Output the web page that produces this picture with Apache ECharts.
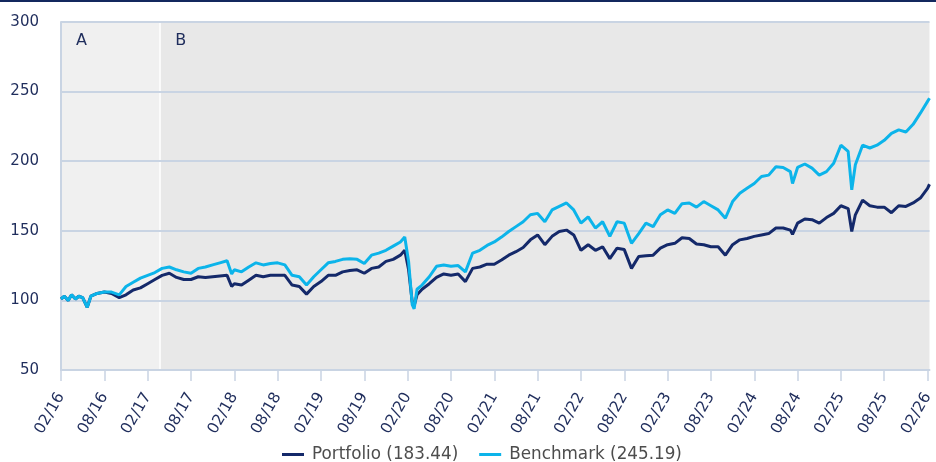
<!DOCTYPE html>
<html>
<head>
<meta charset="utf-8">
<script src="https://cdn.jsdelivr.net/npm/echarts@6/dist/echarts.min.js"></script>
<style>
  html, body { margin: 0; padding: 0; background: #fff; }
  #chart { width: 936px; height: 462px; }
  .topline { position: absolute; left: 0; top: 0; width: 936px; height: 2px; background: #13285e; z-index: 5; }
</style>
</head>
<body>
<div class="topline"></div>
<div id="chart"></div>
<script>
const dates = [
  '2016-02-01','2016-02-15','2016-03-01','2016-03-15','2016-04-01','2016-04-15','2016-05-01','2016-05-20','2016-06-05','2016-07-01',
  '2016-08-01','2016-09-01','2016-10-03','2016-11-01','2016-12-01','2017-01-01','2017-02-01','2017-03-01','2017-04-01','2017-05-01',
  '2017-06-01','2017-07-01','2017-08-01','2017-09-01','2017-10-01','2017-11-01','2017-12-01','2018-01-01','2018-01-20','2018-02-01',
  '2018-03-01','2018-04-01','2018-05-01','2018-06-01','2018-07-01','2018-08-01','2018-09-01','2018-10-01','2018-11-01','2018-12-01',
  '2019-01-01','2019-02-01','2019-03-01','2019-04-01','2019-05-01','2019-06-01','2019-07-01','2019-08-01','2019-09-01','2019-10-01',
  '2019-11-01','2019-12-01','2020-01-01','2020-01-19','2020-02-05','2020-02-20','2020-02-28','2020-03-10','2020-04-01','2020-05-01',
  '2020-06-01','2020-07-01','2020-08-01','2020-09-01','2020-10-01','2020-11-01','2020-12-01','2021-01-01','2021-02-01','2021-03-01',
  '2021-04-01','2021-05-01','2021-06-01','2021-07-01','2021-08-01','2021-09-01','2021-10-01','2021-11-01','2021-12-01','2022-01-01',
  '2022-02-01','2022-03-01','2022-04-01','2022-05-01','2022-06-01','2022-07-01','2022-08-01','2022-09-01','2022-10-01','2022-11-01',
  '2022-12-01','2023-01-01','2023-02-01','2023-03-01','2023-04-01','2023-05-01','2023-06-01','2023-07-01','2023-08-01','2023-09-01',
  '2023-10-01','2023-11-01','2023-12-01','2024-01-01','2024-02-01','2024-03-01','2024-04-01','2024-05-01','2024-06-01','2024-07-01',
  '2024-07-10','2024-08-01','2024-09-01','2024-10-01','2024-11-01','2024-12-01','2025-01-01','2025-02-01','2025-03-01','2025-03-16',
  '2025-04-01','2025-05-01','2025-06-01','2025-07-01','2025-08-01','2025-09-01','2025-10-01','2025-11-01','2025-12-01','2026-01-01',
  '2026-02-01','2026-02-09'
];

const portfolio = [
  101, 103, 100, 104, 101, 103, 102, 95, 103, 105,
  106, 105, 102, 104, 107.5, 109, 112, 115, 118, 119.5,
  116.5, 115, 115, 117, 116.5, 117, 117.5, 118, 110, 112,
  111, 114.5, 118, 117, 118, 118, 118, 111, 110, 104.5,
  110, 113.5, 118, 118, 120.5, 121.5, 122, 119.5, 123, 124,
  128, 129.5, 132.5, 136, 122, 99, 96, 104, 108, 112,
  116.5, 119, 118, 119, 113.5, 123, 124, 126, 126, 129,
  132.5, 135, 138, 143.5, 147, 140, 146, 149.5, 150.5, 147,
  136, 140, 136, 138.5, 130, 137.5, 136.5, 123, 131.5, 132,
  132.5, 137.5, 140, 141, 145, 144.5, 140.5, 140, 138.5, 138.5,
  132.5, 140, 143.5, 144.5, 146, 147, 148, 152, 152, 150.5,
  147.5, 155.5, 158.5, 158, 155.5, 159.5, 162.5, 168, 166, 149.5,
  161.5, 172, 168, 167, 167, 163, 168, 167.5, 170, 173.5,
  180.5, 183.44
];

const benchmark = [
  101, 103, 100, 104, 101, 103, 102, 95, 103, 105,
  106, 106, 104, 110, 113, 116, 118, 120, 123, 124,
  122, 120.5, 119.5, 123, 124, 125.5, 127, 128.5, 119, 122,
  120.5, 124, 127, 125.5, 126.5, 127, 125.5, 118, 117, 111,
  117, 122, 127, 128, 129.5, 130, 129.5, 126.5, 132.5, 134,
  136, 139, 142, 145.5, 128, 97, 94, 108, 111, 117,
  124.5, 125.5, 124.5, 125, 120.5, 134, 136, 139.5, 142, 145.5,
  149.5, 153, 156.5, 161.5, 162.5, 156.5, 165, 167.5, 170, 165,
  155.5, 160, 152, 156.5, 146, 156.5, 155.5, 141, 148, 155.5,
  153, 161.5, 165, 162.5, 169.5, 170, 167, 171, 168, 165,
  159, 171, 177, 180.5, 184, 189, 190, 196, 195.5, 192.5,
  184, 195.5, 198, 195, 190, 192.5, 198.5, 211.5, 207, 179.5,
  197.5, 211.5, 209.5, 211.5, 215, 220, 222.5, 221, 226.5, 234.5,
  243, 245.19
];

const seriesNames = ['Portfolio (183.44)', 'Benchmark (245.19)'];
const xTickLabels = [
  '02/16','08/16','02/17','08/17','02/18','08/18','02/19','08/19','02/20','08/20','02/21',
  '08/21','02/22','08/22','02/23','08/23','02/24','08/24','02/25','08/25','02/26'
];
const yTicks = [50, 100, 150, 200, 250, 300];
const regionNames = ['A', 'B'];
const regionStarts = ['2016-02-01', '2017-03-23'];
const regionEnds = ['2017-03-23', '2026-02-09'];

// months since Feb 2016, used as the x value
function monthIndex(s) {
  const p = s.split('-').map(Number);
  return (p[0] - 2016) * 12 + (p[1] - 2) + (p[2] - 1) / 30;
}

const navy = '#1f2d5c';
const gridColor = '#c9d4e3';
const xMax = monthIndex(dates[dates.length - 1]);

const chart = echarts.init(document.getElementById('chart'));

chart.setOption({
  animation: false,
  backgroundColor: '#fff',
  textStyle: { fontFamily: 'DejaVu Sans' },
  grid: { left: 61, right: 0, top: 22, bottom: 92 },
  legend: {
    data: seriesNames,
    left: 277,
    top: 441,
    icon: 'rect',
    itemWidth: 22,
    itemHeight: 3,
    itemGap: 21,
    textStyle: { fontSize: 16.8, color: '#4d4d4d', padding: [0, 0, 0, 3] }
  },
  xAxis: {
    type: 'value',
    min: 0,
    max: xMax,
    interval: 6,
    splitLine: { show: false },
    axisLine: { show: true, lineStyle: { color: gridColor, width: 2 } },
    axisTick: { show: true, length: 11, lineStyle: { color: gridColor, width: 1.5 } },
    axisLabel: {
      rotate: 60,
      margin: 24,
      fontSize: 15.5,
      color: navy,
      showMaxLabel: false,
      formatter: v => {
        const i = Math.round(v / 6);
        return Math.abs(v - i * 6) < 0.01 ? (xTickLabels[i] || '') : '';
      }
    }
  },
  yAxis: {
    type: 'value',
    min: yTicks[0],
    max: yTicks[yTicks.length - 1],
    interval: 50,
    axisLine: { show: true, lineStyle: { color: gridColor, width: 2 } },
    axisTick: { show: false },
    splitLine: { lineStyle: { color: gridColor, width: 2 } },
    axisLabel: { fontSize: 15, color: navy, margin: 22 }
  },
  series: [
    {
      name: 'regions',
      type: 'line',
      data: [],
      silent: true,
      markArea: {
        z: -1,
        silent: true,
        label: {
          show: true,
          position: 'insideTopLeft',
          distance: 0,
          offset: [15, 11],
          fontSize: 16,
          color: navy
        },
        data: regionNames.map((n, i) => [
          { name: n, xAxis: monthIndex(regionStarts[i]), itemStyle: { color: i === 0 ? '#f0f0f0' : '#e8e8e8' } },
          { xAxis: monthIndex(regionEnds[i]) }
        ])
      },
      markLine: {
        z: -1,
        silent: true,
        symbol: 'none',
        label: { show: false },
        lineStyle: { color: '#ffffff', width: 1.5, type: 'solid' },
        data: [{ xAxis: monthIndex(regionStarts[1]) }]
      }
    },
    {
      name: seriesNames[0],
      type: 'line',
      showSymbol: false,
      color: '#14296a',
      lineStyle: { width: 3, color: '#14296a' },
      data: dates.map((d, i) => [monthIndex(d), portfolio[i]])
    },
    {
      name: seriesNames[1],
      type: 'line',
      showSymbol: false,
      color: '#0cb4ea',
      lineStyle: { width: 3, color: '#0cb4ea' },
      data: dates.map((d, i) => [monthIndex(d), benchmark[i]])
    }
  ]
});
</script>
</body>
</html>
